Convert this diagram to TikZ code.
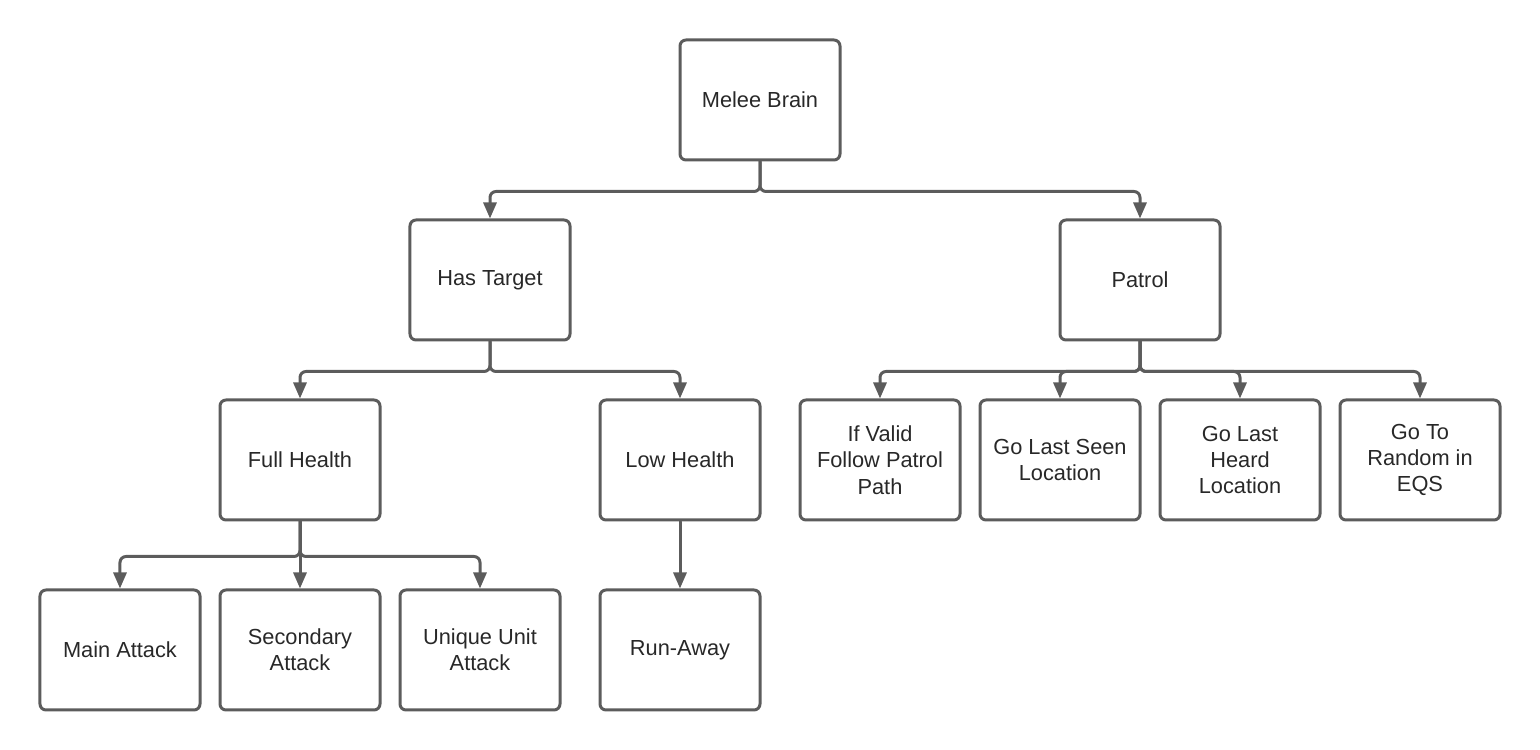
\documentclass[tikz,border=0pt]{standalone}
\usepackage{fontspec}
\setmainfont{Liberation Sans}
\usetikzlibrary{arrows.meta}
\definecolor{edgegray}{RGB}{92,92,92}
\definecolor{textgray}{RGB}{40,40,40}

\begin{document}
\begin{tikzpicture}[x=1cm,y=1cm,line cap=round,line join=round,>=Latex]
\tikzset{box/.style={draw=edgegray,line width=0.03cm,rounded corners=0.06cm,minimum width=1.6cm,minimum height=1.2cm,align=center,text=textgray,font=\fontsize{6.2pt}{7.5pt}\selectfont,inner sep=0pt},
  conn/.style={draw=edgegray,line width=0.03cm,rounded corners=0.06cm,-{Triangle[length=0.16cm,width=0.13cm]}}}
\useasboundingbox (0,0) rectangle (15.4,7.5);

% root and first level
\node[box] (melee) at (7.60,6.50) {Melee Brain};
\node[box] (hastarget) at (4.90,4.70) {Has Target};
\node[box] (patrol) at (11.40,4.70) {Patrol};

% second level
\node[box] (fullhealth) at (3.00,2.90) {Full Health};
\node[box] (lowhealth) at (6.80,2.90) {Low Health};
\node[box] (validpath) at (8.80,2.90) {If Valid\\Follow Patrol\\Path};
\node[box] (lastseen) at (10.60,2.90) {Go Last Seen\\Location};
\node[box] (lastheard) at (12.40,2.90) {Go Last\\Heard\\Location};
\node[box] (randomeqs) at (14.20,2.90) {Go To\\Random in\\EQS};

% leaves
\node[box] (mainattack) at (1.20,1.00) {Main Attack};
\node[box] (secondary) at (3.00,1.00) {Secondary\\Attack};
\node[box] (uniqueunit) at (4.80,1.00) {Unique Unit\\Attack};
\node[box] (runaway) at (6.80,1.00) {Run-Away};

\foreach \kid in {hastarget,patrol} {
  \draw[conn] (melee.south) -- ++(0,-0.3) -| (\kid.north);
}
\foreach \kid in {fullhealth,lowhealth} {
  \draw[conn] (hastarget.south) -- ++(0,-0.3) -| (\kid.north);
}
\foreach \kid in {validpath,lastseen,lastheard,randomeqs} {
  \draw[conn] (patrol.south) -- ++(0,-0.3) -| (\kid.north);
}
\foreach \kid in {mainattack,secondary,uniqueunit} {
  \draw[conn] (fullhealth.south) -- ++(0,-0.35) -| (\kid.north);
}
\draw[conn] (lowhealth.south) -- (runaway.north);
\end{tikzpicture}
\end{document}
